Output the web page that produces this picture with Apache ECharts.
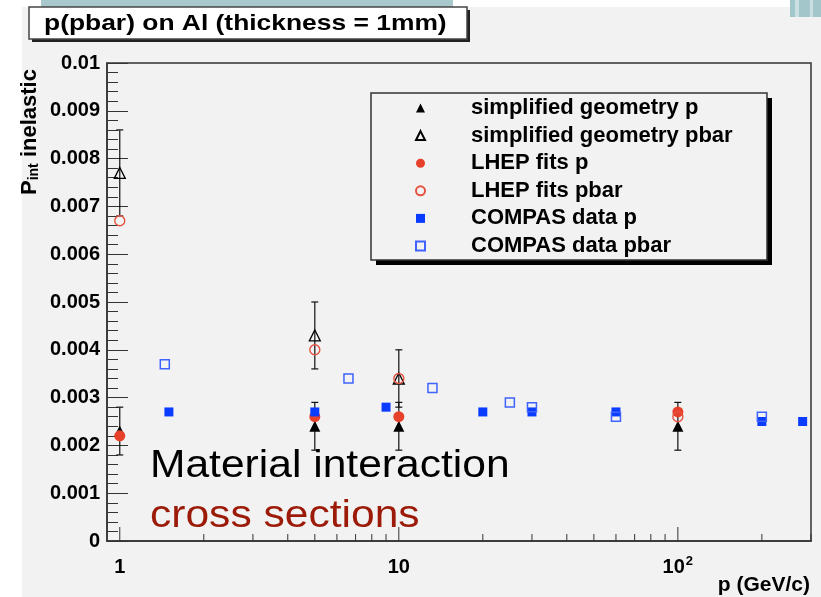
<!DOCTYPE html>
<html>
<head>
<meta charset="utf-8">
<script src="https://cdn.jsdelivr.net/npm/echarts@6/dist/echarts.min.js"></script>
<style>
html,body{margin:0;padding:0;background:#fff;}
#wrap{position:relative;width:821px;height:597px;overflow:hidden;background:#fff;}
#bg{position:absolute;left:22px;top:7px;width:799px;height:590px;background:#f2f2f2;}
#band{position:absolute;left:41px;top:0;width:412px;height:17px;background:#a9c8cc;}
#corner{position:absolute;left:790px;top:0;width:31px;height:17px;background:linear-gradient(90deg,#a3c6ca 0 5px,#c9dfe1 5px 9px,#a3c6ca 9px 20px,#c9dfe1 20px 23px,#a3c6ca 23px 31px);}
#chart{position:absolute;left:0;top:0;width:821px;height:597px;}
</style>
</head>
<body>
<div id="wrap"><div id="bg"></div><div id="band"></div><div id="corner"></div><div id="chart"></div></div>
<script>
// ---- data ----
const simpX = [1, 5, 10, 100];
const simpP = [0.0023, 0.0024, 0.0024, 0.0024];
const simpPErr = [0.0005, 0.0005, 0.0005, 0.0005];
const simpPbarX = [1, 5, 10];
const simpPbar = [0.0077, 0.0043, 0.0034];
const simpPbarErr = [0.0009, 0.0007, 0.0006];
const lhepX = [1, 5, 10, 100];
const lhepP = [0.0022, 0.0026, 0.0026, 0.0027];
const lhepPbar = [0.0067, 0.0040, 0.0034, 0.0026];
const compasPX = [1.5, 5, 9, 20, 30, 60, 200, 280];
const compasP = [0.0027, 0.0027, 0.0028, 0.0027, 0.0027, 0.0027, 0.0025, 0.0025];
const compasPbarX = [1.45, 6.6, 13.2, 25, 30, 60, 200];
const compasPbar = [0.0037, 0.0034, 0.0032, 0.0029, 0.0028, 0.0026, 0.0026];
const xMajorTicks = [1, 10, 100];
const xMinorTicks = [2, 3, 4, 5, 6, 7, 8, 9, 20, 30, 40, 50, 60, 70, 80, 90, 200, 300];
const seriesNames = ['simplified geometry p', 'simplified geometry pbar', 'LHEP fits p', 'LHEP fits pbar', 'COMPAS data p', 'COMPAS data pbar'];

const FF = '"Liberation Sans", Arial, Helvetica, sans-serif';
const zip = (xs, ys) => xs.map((x, i) => [x, ys[i]]);
const errData = (xs, ys, es) => xs.map((x, i) => [x, ys[i] - es[i], ys[i] + es[i]]);

function errRender(params, api) {
  const x = api.value(0);
  const lo = api.coord([x, api.value(1)]);
  const hi = api.coord([x, api.value(2)]);
  const c = 3.5;
  const st = { stroke: '#111', lineWidth: 1.2 };
  return {
    type: 'group',
    children: [
      { type: 'line', shape: { x1: lo[0], y1: lo[1], x2: hi[0], y2: hi[1] }, style: st },
      { type: 'line', shape: { x1: lo[0] - c, y1: lo[1], x2: lo[0] + c, y2: lo[1] }, style: st },
      { type: 'line', shape: { x1: hi[0] - c, y1: hi[1], x2: hi[0] + c, y2: hi[1] }, style: st }
    ]
  };
}
function tickRender(len) {
  return function (params, api) {
    const p = api.coord([api.value(0), 0]);
    return { type: 'line', shape: { x1: p[0], y1: p[1], x2: p[0], y2: p[1] - len }, style: { stroke: '#333', lineWidth: 1 } };
  };
}

const chart = echarts.init(document.getElementById('chart'), null, { renderer: 'canvas' });
const option = {
  backgroundColor: 'transparent',
  animation: false,
  grid: { left: 107, right: 10, top: 63, bottom: 56, show: true, borderColor: '#333', borderWidth: 1.5, backgroundColor: 'transparent' },
  xAxis: {
    type: 'log', logBase: 10, min: 0.9, max: 300,
    axisLine: { lineStyle: { color: '#333', width: 1.5 } },
    axisTick: { show: false },
    splitLine: { show: false },
    minorTick: { show: false },
    axisLabel: {
      margin: 14, color: '#000', fontFamily: FF, fontWeight: 'bold', fontSize: 20,
      showMinLabel: false, showMaxLabel: false,
      formatter: function (v) {
        const l = Math.log10(v);
        if (Math.abs(l - Math.round(l)) > 1e-6 || v < 0.95 || v > 250) return '';
        if (Math.round(l) >= 2) return '{n|10}{sup|' + Math.round(l) + '}';
        return '{n|' + Math.round(v) + '}';
      },
      rich: {
        n: { fontFamily: FF, fontWeight: 'bold', fontSize: 20, color: '#000', verticalAlign: 'bottom', lineHeight: 22 },
        sup: { fontFamily: FF, fontWeight: 'bold', fontSize: 13, color: '#000', verticalAlign: 'top', lineHeight: 22, padding: [0, 0, 10, 1] }
      }
    }
  },
  yAxis: {
    type: 'value', min: 0, max: 0.01, interval: 0.001,
    axisLine: { show: true, lineStyle: { color: '#333', width: 1.5 } },
    axisTick: { show: true, inside: true, length: 21, lineStyle: { color: '#333', width: 1 } },
    minorTick: { show: true, splitNumber: 5, length: 11, lineStyle: { color: '#333', width: 1 } },
    splitLine: { show: false },
    axisLabel: { margin: 7, color: '#000', fontFamily: FF, fontWeight: 'bold', fontSize: 20 }
  },
  legend: {
    orient: 'vertical', left: 371, top: 94,
    padding: [3, 35, 4, 44], itemGap: 5.6, itemWidth: 9, itemHeight: 9,
    backgroundColor: 'transparent', borderWidth: 0,
    textStyle: { fontFamily: FF, fontWeight: 'bold', fontSize: 22, color: '#000', lineHeight: 22, padding: [0, 0, 0, 41] },
    data: seriesNames
  },
  graphic: [
    { type: 'rect', z: 100, shape: { x: 32, y: 10, width: 438, height: 32 }, style: { fill: '#222' } },
    { type: 'rect', z: 101, shape: { x: 29, y: 7, width: 438, height: 32 }, style: { fill: '#fff', stroke: '#444', lineWidth: 1.5 } },
    { type: 'text', z: 102, x: 44, y: 24, scaleX: 1.2, style: { text: 'p(pbar) on Al (thickness = 1mm)', x: 0, y: 0, align: 'left', verticalAlign: 'middle', font: 'bold 22px ' + FF, fill: '#000' } },
    { type: 'rect', z: -1, shape: { x: 376, y: 98, width: 396, height: 167 }, style: { fill: '#000' } },
    { type: 'rect', z: -1, shape: { x: 371, y: 93, width: 396, height: 167 }, style: { fill: '#f2f2f2', stroke: '#333', lineWidth: 1.5 } },
    { type: 'text', z: 50, x: 150, y: 467, scaleX: 1.12, style: { text: 'Material interaction', x: 0, y: 0, align: 'left', verticalAlign: 'middle', font: '38px ' + FF, fill: '#000' } },
    { type: 'text', z: 50, x: 150, y: 517, scaleX: 1.12, style: { text: 'cross sections', x: 0, y: 0, align: 'left', verticalAlign: 'middle', font: '38px ' + FF, fill: '#9c1a08' } },
    { type: 'text', z: 50, x: 810, y: 585, style: { text: 'p (GeV/c)', x: 0, y: 0, align: 'right', verticalAlign: 'middle', font: 'bold 21px ' + FF, fill: '#000' } },
    { type: 'text', z: 50, x: 41, y: 195, rotation: Math.PI / 2, style: {
        text: '{a|P}{s|int}{a| inelastic}', x: 0, y: 0, align: 'left', verticalAlign: 'bottom',
        rich: {
          a: { fontFamily: FF, fontWeight: 'bold', fontSize: 22, fill: '#000', lineHeight: 26, verticalAlign: 'bottom' },
          s: { fontFamily: FF, fontWeight: 'bold', fontSize: 14, fill: '#000', lineHeight: 14, verticalAlign: 'bottom' }
        } } }
  ],
  series: [
    { type: 'custom', name: 'xMajor', silent: true, clip: false, renderItem: tickRender(14), data: xMajorTicks.map(v => [v, 0]), z: 3 },
    { type: 'custom', name: 'xMinor', silent: true, clip: false, renderItem: tickRender(7), data: xMinorTicks.map(v => [v, 0]), z: 3 },
    { type: 'custom', name: 'errP', silent: true, renderItem: errRender, encode: { x: 0, y: [1, 2] }, data: errData(simpX, simpP, simpPErr), z: 4 },
    { type: 'custom', name: 'errPbar', silent: true, renderItem: errRender, encode: { x: 0, y: [1, 2] }, data: errData(simpPbarX, simpPbar, simpPbarErr), z: 4 },
    { type: 'scatter', name: seriesNames[0], symbol: 'triangle', symbolSize: 11, itemStyle: { color: '#000', opacity: 1 }, data: zip(simpX, simpP), z: 5 },
    { type: 'scatter', name: seriesNames[1], symbol: 'triangle', symbolSize: 11, itemStyle: { color: 'rgba(0,0,0,0)', borderColor: '#000', borderWidth: 1.3, opacity: 1 }, data: zip(simpPbarX, simpPbar), z: 5 },
    { type: 'scatter', name: seriesNames[2], symbol: 'circle', symbolSize: 11, itemStyle: { color: '#e8412b', opacity: 1 }, data: zip(lhepX, lhepP), z: 6 },
    { type: 'scatter', name: seriesNames[3], symbol: 'circle', symbolSize: 10, itemStyle: { color: 'rgba(0,0,0,0)', borderColor: '#e4523f', borderWidth: 1.4, opacity: 1 }, data: zip(lhepX, lhepPbar), z: 6 },
    { type: 'scatter', name: seriesNames[4], symbol: 'rect', symbolSize: 9, itemStyle: { color: '#0a3cff', opacity: 1 }, data: zip(compasPX, compasP), z: 7 },
    { type: 'scatter', name: seriesNames[5], symbol: 'rect', symbolSize: 9, itemStyle: { color: 'rgba(0,0,0,0)', borderColor: '#3f63ff', borderWidth: 1.5, opacity: 1 }, data: zip(compasPbarX, compasPbar), z: 7 }
  ]
};
chart.setOption(option);
</script>
</body>
</html>
